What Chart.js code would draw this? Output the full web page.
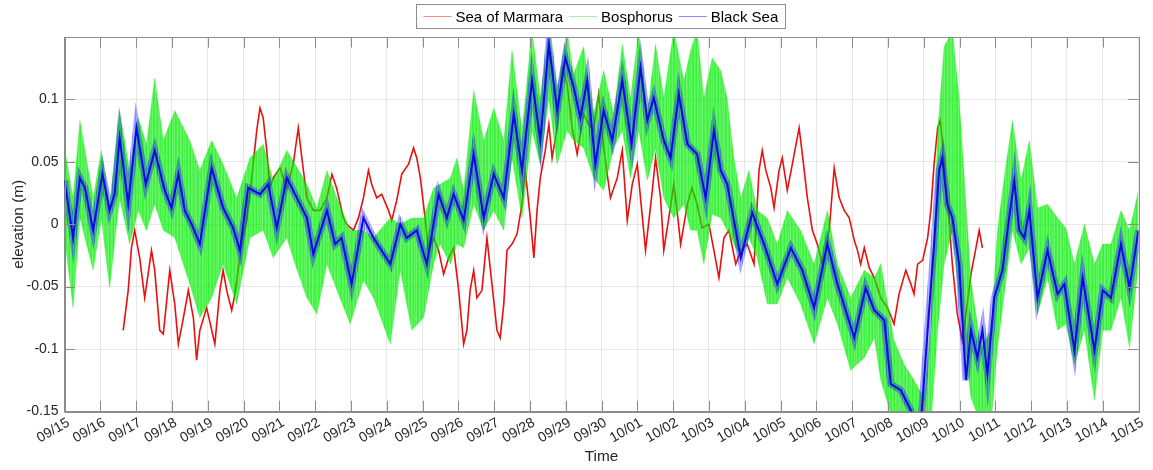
<!DOCTYPE html>
<html>
<head>
<meta charset="utf-8">
<script src="https://cdn.jsdelivr.net/npm/chart.js@4.4.0/dist/chart.umd.min.js"></script>
<style>
  html, body { margin: 0; padding: 0; background: #fff; }
  #wrap { width: 1153px; height: 470px; }
</style>
</head>
<body>
<div id="wrap"><canvas id="elevChart"></canvas></div>
<script>
// x axis: days since 09/15, one tick per day
const dayLabels = ['09/15','09/16','09/17','09/18','09/19','09/20','09/21','09/22','09/23','09/24',
  '09/25','09/26','09/27','09/28','09/29','09/30','10/01','10/02','10/03','10/04',
  '10/05','10/06','10/07','10/08','10/09','10/10','10/11','10/12','10/13','10/14','10/15'];
const yTicks = [-0.15, -0.1, -0.05, 0, 0.05, 0.1];
const yTickLabels = ['-0.15', '-0.1', '-0.05', '0', '0.05', '0.1'];

// Sea of Marmara (red)
const marmaraDay = [
  1.64,1.78,1.87,1.96,2.10,2.24,2.43,2.52,2.66,2.76,
  2.94,3.08,3.18,3.32,3.46,3.60,3.69,3.78,3.97,4.20,
  4.34,4.43,4.53,4.67,4.76,4.88,4.98,5.09,5.23,5.37,
  5.46,5.55,5.65,5.74,5.83,6.02,6.21,6.39,6.53,6.63,
  6.77,6.95,7.14,7.33,7.47,7.60,7.79,7.88,8.07,8.21,
  8.35,8.49,8.58,8.72,8.86,9.05,9.14,9.28,9.42,9.61,
  9.75,9.84,9.94,10.08,10.17,10.31,10.45,10.59,10.73,10.87,
  11.01,11.15,11.24,11.33,11.43,11.52,11.66,11.80,11.94,12.08,
  12.17,12.27,12.36,12.50,12.64,12.78,12.87,13.01,13.11,13.20,
  13.29,13.43,13.53,13.62,13.76,13.90,14.04,14.18,14.32,14.50,
  14.64,14.78,14.92,15.06,15.25,15.44,15.58,15.72,15.86,16.00,
  16.23,16.42,16.51,16.65,16.74,16.88,17.02,17.11,17.21,17.40,
  17.53,17.67,17.81,18.00,18.14,18.28,18.42,18.56,18.75,18.89,
  19.07,19.26,19.40,19.49,19.59,19.73,19.82,19.96,20.05,20.19,
  20.33,20.52,20.61,20.75,20.89,21.03,21.17,21.36,21.50,21.64,
  21.78,21.92,22.06,22.15,22.24,22.34,22.48,22.62,22.80,22.99,
  23.17,23.31,23.50,23.64,23.73,23.83,23.97,24.11,24.20,24.29,
  24.39,24.46,24.52,24.66,24.80,24.94,25.08,25.18,25.32,25.46,
  25.55,25.64];
const marmaraVal = [
  -0.085,-0.053,-0.019,-0.005,-0.027,-0.059,-0.021,-0.037,-0.085,-0.088,
  -0.037,-0.064,-0.096,-0.075,-0.053,-0.075,-0.109,-0.085,-0.067,-0.096,
  -0.053,-0.037,-0.053,-0.069,-0.056,-0.030,-0.012,0.003,0.037,0.075,
  0.093,0.085,0.059,0.029,0.037,0.045,0.029,0.048,0.077,0.053,
  0.021,0.011,0.011,0.021,0.040,0.029,0.005,0.000,-0.005,0.005,
  0.021,0.043,0.032,0.021,0.024,0.011,0.003,0.019,0.040,0.048,
  0.061,0.053,0.037,0.003,-0.021,-0.011,-0.021,-0.040,-0.027,-0.019,
  -0.053,-0.096,-0.085,-0.053,-0.037,-0.059,-0.053,-0.011,-0.048,-0.085,
  -0.091,-0.064,-0.021,-0.016,-0.008,0.016,0.043,0.005,-0.027,0.011,
  0.037,0.059,0.080,0.053,0.077,0.125,0.112,0.077,0.056,0.088,
  0.080,0.075,0.104,0.061,0.021,0.037,0.059,0.003,0.032,0.048,
  -0.021,0.027,0.053,0.021,-0.021,0.005,0.032,0.011,-0.016,0.016,
  0.029,0.016,-0.003,0.000,-0.021,-0.043,-0.011,-0.005,-0.032,-0.021,
  -0.016,-0.032,0.043,0.059,0.043,0.029,0.013,0.043,0.053,0.027,
  0.048,0.077,0.056,0.021,-0.005,-0.016,-0.032,-0.005,0.045,0.021,
  0.011,0.005,-0.013,-0.021,-0.032,-0.019,-0.035,-0.043,-0.059,-0.067,
  -0.080,-0.056,-0.037,-0.048,-0.056,-0.032,-0.029,-0.011,0.011,0.048,
  0.077,0.083,0.067,0.021,-0.032,-0.072,-0.093,-0.072,-0.040,-0.019,
  -0.005,-0.019];

// Bosphorus (green): upper and lower edge of the noisy band
const bosphorusDay = [
  0.00,0.24,0.43,0.80,1.03,1.26,1.54,1.82,2.06,2.29,
  2.52,2.76,3.08,3.50,3.78,4.11,4.43,4.81,5.18,5.55,
  5.83,6.21,6.44,6.77,7.05,7.33,7.61,7.98,8.35,8.63,
  9.10,9.38,9.70,10.03,10.31,10.49,10.78,10.96,11.15,11.43,
  11.71,11.99,12.27,12.50,12.78,13.06,13.29,13.53,13.76,14.04,
  14.22,14.50,14.78,15.06,15.34,15.58,15.81,16.04,16.28,16.51,
  16.74,17.02,17.30,17.49,17.67,17.86,18.09,18.33,18.51,18.70,
  18.89,19.12,19.35,19.63,19.91,20.19,20.56,20.94,21.31,21.59,
  21.96,22.34,22.62,22.80,23.17,23.45,23.73,24.01,24.20,24.39,
  24.57,24.80,24.99,25.32,25.60,25.88,26.06,26.30,26.48,26.72,
  26.95,27.18,27.46,27.74,27.97,28.21,28.49,28.77,29.00,29.23,
  29.51,29.75,30.00];
const bosphorusHigh = [
  0.061,0.021,0.083,0.021,0.059,0.016,0.091,0.043,0.085,0.064,
  0.117,0.067,0.091,0.067,0.043,0.067,0.048,0.021,0.053,0.064,
  0.035,0.059,0.048,0.032,0.013,0.043,0.021,-0.005,-0.005,-0.011,
  0.005,0.000,0.005,0.005,0.029,0.032,0.037,0.053,0.027,0.107,
  0.067,0.093,0.067,0.139,0.075,0.155,0.101,0.155,0.107,0.155,
  0.120,0.142,0.088,0.123,0.088,0.144,0.101,0.155,0.088,0.144,
  0.101,0.155,0.115,0.139,0.155,0.101,0.133,0.123,0.101,0.053,
  0.021,0.043,0.011,0.005,-0.016,0.011,-0.005,-0.032,0.011,-0.032,
  -0.059,-0.037,-0.043,-0.032,-0.093,-0.112,-0.125,-0.139,-0.085,0.075,
  0.142,0.155,0.101,-0.045,-0.099,-0.085,-0.005,0.048,0.083,0.035,
  0.067,0.013,0.016,0.005,-0.003,-0.032,0.000,-0.032,-0.016,-0.016,
  0.011,-0.005,0.027];
const bosphorusLow = [
  -0.011,-0.067,0.005,-0.037,0.005,-0.051,0.021,-0.016,0.011,-0.005,
  0.016,-0.005,-0.011,-0.048,-0.075,-0.059,-0.032,-0.064,-0.011,-0.005,
  -0.027,-0.011,-0.032,-0.059,-0.072,-0.032,-0.053,-0.080,-0.045,-0.059,
  -0.096,-0.037,-0.085,-0.075,-0.032,-0.016,-0.032,-0.016,-0.019,0.016,
  -0.005,0.011,-0.005,0.053,0.005,0.075,0.048,0.101,0.048,0.075,
  0.067,0.061,0.037,0.027,0.061,0.075,0.037,0.075,0.035,0.061,
  0.021,0.005,0.016,-0.005,-0.005,-0.032,0.008,0.005,-0.005,-0.016,
  -0.027,-0.011,-0.027,-0.064,-0.064,-0.043,-0.064,-0.096,-0.059,-0.080,
  -0.117,-0.107,-0.091,-0.125,-0.160,-0.160,-0.160,-0.160,-0.160,-0.085,
  -0.032,-0.005,-0.059,-0.139,-0.160,-0.160,-0.099,-0.045,-0.005,-0.032,
  -0.019,-0.072,-0.043,-0.085,-0.080,-0.112,-0.085,-0.141,-0.085,-0.085,
  -0.059,-0.099,-0.032];

// Black Sea (blue)
const blackSeaDay = [
  0.00,0.24,0.43,0.57,0.80,1.06,1.26,1.40,1.54,1.78,
  2.01,2.27,2.52,2.80,2.99,3.18,3.36,3.55,3.78,4.11,
  4.43,4.71,4.90,5.13,5.46,5.69,5.93,6.21,6.49,6.77,
  6.95,7.33,7.56,7.74,8.02,8.35,8.63,9.10,9.38,9.56,
  9.84,10.12,10.45,10.68,10.87,11.15,11.43,11.71,11.99,12.27,
  12.55,12.78,13.06,13.29,13.53,13.76,13.99,14.22,14.41,14.60,
  14.83,15.06,15.30,15.58,15.84,16.09,16.28,16.46,16.74,16.93,
  17.16,17.40,17.67,17.91,18.14,18.33,18.51,18.75,18.89,19.21,
  19.54,19.91,20.29,20.61,20.94,21.31,21.59,22.06,22.38,22.62,
  22.90,23.08,23.36,23.64,23.78,23.92,24.11,24.29,24.43,24.52,
  24.66,24.80,24.99,25.18,25.32,25.50,25.64,25.78,25.97,26.20,
  26.34,26.53,26.67,26.81,26.95,27.18,27.46,27.74,27.93,28.21,
  28.44,28.77,29.00,29.23,29.51,29.75,30.00];
const blackSeaVal = [
  0.035,-0.011,0.037,0.029,-0.005,0.040,0.011,0.024,0.069,0.016,
  0.077,0.032,0.059,0.027,0.013,0.040,0.011,0.000,-0.016,0.045,
  0.013,-0.003,-0.021,0.029,0.024,0.032,-0.003,0.037,0.021,0.005,
  -0.024,0.011,-0.016,-0.011,-0.048,0.005,-0.011,-0.032,0.000,-0.011,
  -0.005,-0.032,0.024,0.005,0.024,0.003,0.056,0.005,0.040,0.021,
  0.088,0.043,0.115,0.067,0.144,0.091,0.133,0.110,0.085,0.115,
  0.048,0.091,0.067,0.115,0.064,0.125,0.083,0.101,0.067,0.053,
  0.104,0.064,0.056,0.021,0.075,0.043,0.032,-0.005,-0.027,0.009,
  -0.016,-0.048,-0.019,-0.037,-0.067,-0.016,-0.048,-0.091,-0.051,-0.069,
  -0.077,-0.128,-0.133,-0.149,-0.160,-0.160,-0.085,-0.016,0.043,0.053,
  0.016,0.005,-0.032,-0.125,-0.085,-0.107,-0.085,-0.120,-0.059,-0.037,
  -0.005,0.035,-0.005,-0.011,0.011,-0.059,-0.021,-0.056,-0.048,-0.101,
  -0.043,-0.101,-0.053,-0.059,-0.016,-0.051,-0.005];

const legendItems = [
  { label: 'Sea of Marmara', color: 'rgba(235,0,0,0.45)' },
  { label: 'Bosphorus', color: 'rgba(0,220,0,0.35)' },
  { label: 'Black Sea', color: 'rgba(0,0,235,0.45)' }
];

const FONT = '"Liberation Sans", Arial, Helvetica, sans-serif';
const AXIS_GRAY = '#8c8c8c';

function toPoints(days, vals) {
  return days.map((d, i) => ({ x: d, y: vals[i] }));
}

// soft vertical hatch so the bands look like dense traces
function stripePattern(rgb, alphas) {
  const c = document.createElement('canvas');
  c.width = alphas.length;
  c.height = 4;
  const g = c.getContext('2d');
  alphas.forEach((a, i) => {
    g.fillStyle = `rgba(${rgb},${a})`;
    g.fillRect(i, 0, 1, 4);
  });
  return g.createPattern(c, 'repeat');
}
const greenTexture = stripePattern('0,238,0', [0.72, 0.6, 0.68, 0.78, 0.56, 0.66, 0.74, 0.62, 0.7, 0.58, 0.76]);
const blueTexture = stripePattern('30,30,255', [0.5, 0.32, 0.45, 0.36, 0.55, 0.3, 0.48, 0.38, 0.42]);

// MATLAB-ish box, inward ticks and framed legend
const matlabAxes = {
  id: 'matlabAxes',
  afterDraw(chart) {
    const ctx = chart.ctx;
    const a = chart.chartArea;
    const xs = chart.scales.x, ys = chart.scales.y;
    const tl = 10.7;
    ctx.save();
    ctx.strokeStyle = AXIS_GRAY;
    ctx.lineWidth = 1;
    ctx.beginPath();
    xs.ticks.forEach(t => {
      const px = Math.round(xs.getPixelForValue(t.value)) + 0.5;
      ctx.moveTo(px, a.bottom); ctx.lineTo(px, a.bottom - tl);
      ctx.moveTo(px, a.top); ctx.lineTo(px, a.top + tl);
    });
    ys.ticks.forEach(t => {
      const py = Math.round(ys.getPixelForValue(t.value)) + 0.5;
      ctx.moveTo(a.left, py); ctx.lineTo(a.left + tl, py);
      ctx.moveTo(a.right, py); ctx.lineTo(a.right - tl, py);
    });
    ctx.stroke();
    ctx.strokeRect(Math.round(a.left) + 0.5, Math.round(a.top) + 0.5,
      Math.round(a.right - a.left), Math.round(a.bottom - a.top));

    // legend
    ctx.font = '15px ' + FONT;
    const lineLen = 28, gapA = 4, gapB = 6, padX = 7;
    let total = padX * 2;
    legendItems.forEach((it, i) => {
      total += lineLen + gapA + ctx.measureText(it.label).width + (i < legendItems.length - 1 ? gapB : 0);
    });
    const cx = 600.5, top = 4.5, h = 24;
    let x = Math.round(cx - total / 2) + 0.5;
    ctx.fillStyle = '#fff';
    ctx.fillRect(x, top, total, h);
    ctx.strokeStyle = '#8c8c8c';
    ctx.strokeRect(x, top, Math.round(total), h);
    let px = x + padX;
    const my = top + h / 2;
    legendItems.forEach(it => {
      ctx.strokeStyle = it.color;
      ctx.lineWidth = 1;
      ctx.beginPath();
      ctx.moveTo(px, my); ctx.lineTo(px + lineLen, my);
      ctx.stroke();
      px += lineLen + gapA;
      ctx.fillStyle = '#000';
      ctx.textBaseline = 'middle';
      ctx.fillText(it.label, px, my + 1);
      px += ctx.measureText(it.label).width + gapB;
    });
    ctx.restore();
  }
};

new Chart(document.getElementById('elevChart'), {
  type: 'line',
  data: {
    datasets: [
      {
        label: 'Sea of Marmara',
        data: toPoints(marmaraDay, marmaraVal),
        borderColor: 'rgb(235,15,15)',
        borderWidth: 1.6,
        pointRadius: 0,
        fill: false,
        clip: 0,
        order: 5
      },
      {
        label: 'Bosphorus low',
        data: toPoints(bosphorusDay, bosphorusLow),
        borderColor: 'rgba(0,230,0,0.25)',
        borderWidth: 1,
        pointRadius: 0,
        fill: false,
        clip: 0,
        order: 4
      },
      {
        label: 'Bosphorus',
        data: toPoints(bosphorusDay, bosphorusHigh),
        borderColor: 'rgba(0,230,0,0.25)',
        backgroundColor: greenTexture,
        borderWidth: 1,
        pointRadius: 0,
        fill: '-1',
        clip: 0,
        order: 3
      },
      {
        label: 'Black Sea halo',
        data: toPoints(blackSeaDay, blackSeaVal),
        borderColor: blueTexture,
        borderWidth: 7,
        pointRadius: 0,
        fill: false,
        clip: 0,
        order: 2
      },
      {
        label: 'Black Sea',
        data: toPoints(blackSeaDay, blackSeaVal),
        borderColor: 'rgb(10,10,225)',
        borderWidth: 2,
        pointRadius: 0,
        fill: false,
        clip: 0,
        order: 1
      }
    ]
  },
  options: {
    responsive: true,
    maintainAspectRatio: false,
    animation: false,
    devicePixelRatio: 1,
    layout: { padding: { top: 37, right: 14.5, left: 0, bottom: 0 } },
    plugins: {
      legend: { display: false },
      tooltip: { enabled: false }
    },
    scales: {
      x: {
        type: 'linear',
        min: 0,
        max: 30,
        afterBuildTicks: s => { s.ticks = dayLabels.map((_, i) => ({ value: i })); },
        afterFit: s => { s.height = 58.5; },
        grid: { color: 'rgba(0,0,0,0.09)', drawTicks: false },
        border: { display: true, color: AXIS_GRAY },
        ticks: {
          autoSkip: false,
          minRotation: 30,
          maxRotation: 30,
          padding: 3,
          labelOffset: 4,
          color: '#262626',
          font: { family: FONT, size: 14 },
          callback: (v, i) => dayLabels[i]
        },
        title: {
          display: true,
          text: 'Time',
          color: '#262626',
          font: { family: FONT, size: 15.4 },
          padding: { top: 2, bottom: 4 }
        }
      },
      y: {
        min: -0.15,
        max: 0.1498,
        afterBuildTicks: s => { s.ticks = yTicks.map(v => ({ value: v })); },
        afterFit: s => { s.width = 64.5; },
        grid: { color: 'rgba(0,0,0,0.09)', drawTicks: false },
        border: { display: true, color: AXIS_GRAY },
        ticks: {
          padding: 6,
          color: '#262626',
          font: { family: FONT, size: 14 },
          callback: (v, i) => yTickLabels[i]
        },
        title: {
          display: true,
          text: 'elevation (m)',
          color: '#262626',
          font: { family: FONT, size: 15.4 },
          padding: { top: 10, bottom: 4 }
        }
      }
    }
  },
  plugins: [matlabAxes]
});
</script>
</body>
</html>
